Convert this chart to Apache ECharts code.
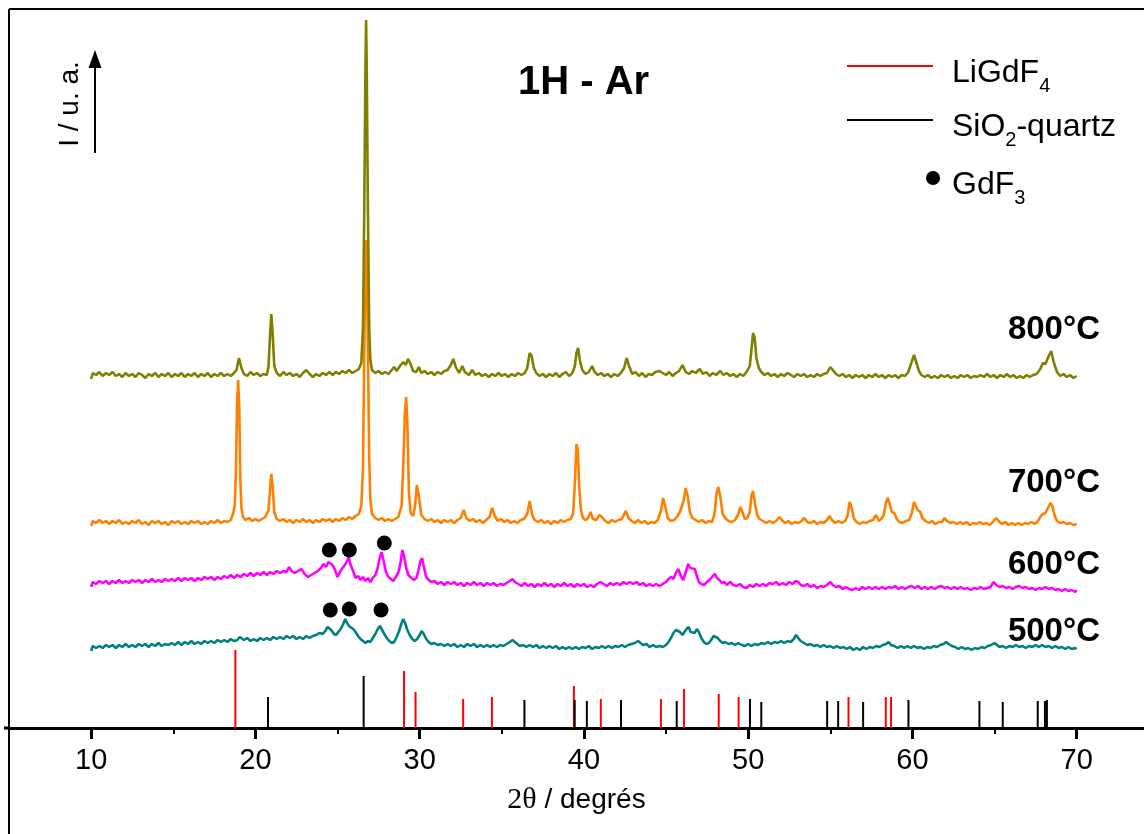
<!DOCTYPE html>
<html><head><meta charset="utf-8">
<script src="https://cdn.jsdelivr.net/npm/echarts@6/dist/echarts.min.js"></script>
<style>html,body{margin:0;padding:0;background:#fff}#c{width:1144px;height:834px}</style>
</head><body><div id="c"></div>
<script>
// ---- data ----
const tickLabels = [10, 20, 30, 40, 50, 60, 70];
const minorTicks = [15, 25, 35, 45, 55, 65];
const tempLabels = ['800°C', '700°C', '600°C', '500°C'];

// LiGdF4 reference pattern [2theta, relative intensity]
const liGdF4 = [[18.78,78],[29.05,57],[29.75,36],[32.65,29],[34.40,31],[39.39,42],[41.03,29],[44.69,29],[46.09,39],[48.21,34],[49.42,31],[56.11,31],[58.38,31],[58.70,31]];
// SiO2 quartz reference pattern
const quartz = [[20.77,31],[26.59,52],[36.38,28],[39.44,28],[40.18,27],[42.26,28],[45.65,27],[50.11,29],[50.80,26],[54.81,27],[55.48,27],[57.00,26],[59.76,28],[64.08,27],[65.50,26],[67.63,27],[68.07,27],[68.19,28]];
// GdF3 markers
const gdF3 = [[24.50,178],[25.72,178],[27.85,185],[24.56,118],[25.72,119],[27.65,118]];

const s800 = [[10.0,349],[10.1,355],[10.3,353],[10.5,356],[10.7,352],[10.9,355],[11.1,353],[11.3,356],[11.5,352],[11.7,354],[11.9,351],[12.1,355],[12.3,352],[12.5,354],[12.7,351],[12.9,355],[13.1,353],[13.3,350],[13.5,354],[13.7,352],[13.9,355],[14.1,351],[14.3,354],[14.5,352],[14.7,355],[14.9,351],[15.1,354],[15.3,352],[15.5,355],[15.7,351],[15.9,354],[16.1,352],[16.3,355],[16.5,351],[16.7,354],[16.9,352],[17.1,355],[17.3,351],[17.5,354],[17.7,352],[17.9,355],[18.1,352],[18.3,354],[18.5,352],[18.7,355],[18.85,358],[19.0,370],[19.15,360],[19.3,354],[19.5,352],[19.7,356],[19.9,353],[20.1,355],[20.3,352],[20.5,354],[20.7,353],[20.8,362],[20.9,395],[20.97,414],[21.05,395],[21.15,362],[21.3,355],[21.5,352],[21.7,356],[21.9,353],[22.1,355],[22.3,352],[22.5,354],[22.7,351],[22.9,355],[23.1,358],[23.3,354],[23.5,351],[23.7,354],[23.9,352],[24.1,355],[24.3,353],[24.5,356],[24.7,353],[24.9,356],[25.1,354],[25.3,357],[25.5,355],[25.7,358],[25.9,355],[26.1,357],[26.3,359],[26.45,365],[26.55,400],[26.63,520],[26.7,660],[26.74,708],[26.78,660],[26.85,520],[26.93,400],[27.0,368],[27.1,358],[27.3,355],[27.5,357],[27.7,354],[27.9,356],[28.1,354],[28.3,358],[28.45,361],[28.6,357],[28.8,362],[29.0,366],[29.15,363],[29.3,369],[29.45,364],[29.6,357],[29.8,356],[29.95,361],[30.1,355],[30.3,357],[30.5,354],[30.7,356],[30.9,353],[31.1,356],[31.3,354],[31.5,357],[31.7,358],[31.9,363],[32.05,369],[32.2,361],[32.4,355],[32.6,362],[32.75,356],[33.0,353],[33.2,358],[33.4,353],[33.6,355],[33.8,352],[34.0,354],[34.2,351],[34.4,354],[34.6,352],[34.8,355],[35.0,352],[35.2,354],[35.4,351],[35.6,354],[35.8,352],[36.0,355],[36.2,353],[36.4,355],[36.55,360],[36.7,375],[36.82,372],[36.95,360],[37.1,355],[37.3,352],[37.5,354],[37.7,351],[37.9,354],[38.1,352],[38.3,355],[38.5,351],[38.7,354],[38.9,356],[39.1,352],[39.3,355],[39.45,362],[39.55,375],[39.65,380],[39.75,368],[39.9,358],[40.1,354],[40.3,356],[40.5,362],[40.65,356],[40.85,353],[41.05,355],[41.25,352],[41.45,354],[41.65,351],[41.85,354],[42.05,352],[42.25,355],[42.45,360],[42.6,370],[42.75,362],[42.95,354],[43.15,356],[43.35,352],[43.55,355],[43.75,351],[43.95,354],[44.15,353],[44.35,356],[44.6,357],[44.8,355],[45.0,353],[45.2,356],[45.4,352],[45.6,355],[45.8,357],[46.0,363],[46.2,356],[46.4,354],[46.6,357],[46.8,355],[47.05,359],[47.25,354],[47.45,356],[47.65,352],[47.85,355],[48.05,353],[48.3,357],[48.5,353],[48.7,355],[48.9,352],[49.1,354],[49.3,351],[49.5,354],[49.7,352],[49.9,356],[50.1,362],[50.2,378],[50.3,395],[50.4,390],[50.5,370],[50.65,360],[50.8,356],[51.0,353],[51.2,355],[51.4,352],[51.6,354],[51.8,351],[52.0,354],[52.2,352],[52.4,355],[52.6,353],[52.8,351],[53.0,354],[53.2,352],[53.4,354],[53.6,351],[53.8,353],[54.0,351],[54.2,354],[54.4,352],[54.6,354],[54.8,355],[55.0,361],[55.15,358],[55.35,354],[55.55,352],[55.75,354],[55.95,351],[56.15,353],[56.35,350],[56.55,353],[56.75,351],[56.95,353],[57.15,350],[57.35,353],[57.55,351],[57.75,354],[57.95,351],[58.15,353],[58.35,350],[58.55,353],[58.75,351],[58.95,353],[59.15,350],[59.35,353],[59.55,352],[59.75,356],[59.95,366],[60.1,373],[60.25,365],[60.4,357],[60.55,353],[60.75,351],[60.95,353],[61.15,350],[61.35,352],[61.55,350],[61.75,353],[61.95,351],[62.15,353],[62.35,350],[62.55,352],[62.75,350],[62.95,353],[63.15,351],[63.35,353],[63.55,350],[63.75,352],[63.95,351],[64.15,353],[64.35,351],[64.55,354],[64.75,351],[64.95,353],[65.15,350],[65.35,353],[65.55,351],[65.75,354],[65.95,351],[66.15,353],[66.35,350],[66.55,352],[66.75,350],[66.95,353],[67.15,351],[67.35,353],[67.55,354],[67.75,358],[67.95,365],[68.1,364],[68.3,372],[68.45,377],[68.6,366],[68.8,356],[69.0,352],[69.2,354],[69.4,351],[69.6,353],[69.8,350],[70.0,352]];

const s700 = [[10.0,202],[10.1,207],[10.3,205],[10.5,208],[10.7,205],[10.9,207],[11.1,204],[11.3,207],[11.5,205],[11.7,208],[11.9,204],[12.1,206],[12.3,204],[12.5,207],[12.7,205],[12.9,208],[13.1,204],[13.3,206],[13.5,203],[13.7,207],[13.9,205],[14.1,207],[14.3,204],[14.5,206],[14.7,203],[14.9,207],[15.1,205],[15.3,207],[15.5,204],[15.7,206],[15.9,204],[16.1,207],[16.3,205],[16.5,207],[16.7,204],[16.9,206],[17.1,204],[17.3,207],[17.5,205],[17.7,208],[17.9,205],[18.1,207],[18.3,206],[18.5,208],[18.65,215],[18.75,224],[18.82,260],[18.88,320],[18.95,348],[19.02,320],[19.08,250],[19.15,220],[19.25,211],[19.4,208],[19.6,210],[19.8,207],[20.0,209],[20.2,207],[20.4,209],[20.6,211],[20.8,218],[20.9,240],[20.97,254],[21.05,242],[21.15,216],[21.3,209],[21.5,207],[21.7,209],[21.9,206],[22.1,208],[22.3,205],[22.5,208],[22.7,206],[22.9,209],[23.1,206],[23.3,208],[23.5,205],[23.7,208],[23.9,206],[24.1,209],[24.3,207],[24.5,209],[24.7,206],[24.9,209],[25.1,207],[25.3,210],[25.5,208],[25.7,211],[25.9,209],[26.1,212],[26.3,214],[26.45,222],[26.55,260],[26.63,380],[26.7,470],[26.74,488],[26.78,470],[26.85,380],[26.93,270],[27.0,228],[27.1,214],[27.3,210],[27.5,208],[27.7,210],[27.9,207],[28.1,209],[28.3,207],[28.5,209],[28.7,211],[28.9,222],[29.0,260],[29.1,315],[29.18,331],[29.26,300],[29.35,235],[29.45,215],[29.6,212],[29.72,222],[29.83,243],[29.95,232],[30.1,213],[30.3,209],[30.5,207],[30.7,209],[30.9,206],[31.1,208],[31.3,205],[31.5,208],[31.7,206],[31.9,208],[32.1,205],[32.3,208],[32.5,210],[32.68,218],[32.85,210],[33.05,207],[33.25,209],[33.45,206],[33.65,208],[33.85,205],[34.05,208],[34.25,211],[34.42,220],[34.58,212],[34.75,207],[34.95,209],[35.15,206],[35.35,208],[35.55,205],[35.75,207],[35.95,205],[36.15,208],[36.35,209],[36.55,214],[36.7,227],[36.85,213],[37.0,208],[37.2,206],[37.4,208],[37.6,205],[37.8,207],[38.0,204],[38.2,207],[38.4,205],[38.6,208],[38.8,206],[39.0,208],[39.2,209],[39.35,215],[39.45,245],[39.55,284],[39.63,278],[39.72,240],[39.82,218],[39.95,210],[40.1,208],[40.25,210],[40.4,216],[40.55,209],[40.75,208],[40.95,213],[41.1,211],[41.3,207],[41.5,205],[41.7,208],[41.9,206],[42.1,208],[42.3,209],[42.55,217],[42.72,210],[42.9,207],[43.1,205],[43.3,208],[43.5,205],[43.7,207],[43.9,204],[44.1,206],[44.3,205],[44.5,208],[44.7,218],[44.82,230],[44.95,222],[45.1,210],[45.3,207],[45.5,208],[45.7,212],[45.85,216],[45.95,214],[46.08,228],[46.2,240],[46.32,232],[46.45,216],[46.6,210],[46.8,208],[47.0,206],[47.2,208],[47.4,205],[47.6,207],[47.8,206],[47.95,214],[48.08,235],[48.18,241],[48.3,232],[48.45,214],[48.6,210],[48.8,207],[49.0,206],[49.2,208],[49.38,213],[49.52,221],[49.65,216],[49.8,209],[49.95,210],[50.1,216],[50.2,232],[50.3,237],[50.42,224],[50.55,213],[50.7,209],[50.9,207],[51.1,205],[51.3,207],[51.5,205],[51.7,207],[51.9,211],[52.05,208],[52.25,205],[52.45,207],[52.65,204],[52.85,206],[53.05,205],[53.25,207],[53.42,210],[53.6,206],[53.8,205],[54.0,207],[54.2,204],[54.4,206],[54.6,205],[54.8,208],[54.95,212],[55.1,208],[55.3,205],[55.5,207],[55.7,205],[55.9,207],[56.05,212],[56.18,226],[56.32,219],[56.45,209],[56.6,206],[56.8,204],[57.0,206],[57.2,205],[57.4,207],[57.6,208],[57.78,213],[57.95,207],[58.1,209],[58.25,213],[58.4,226],[58.5,230],[58.62,224],[58.75,216],[58.9,215],[59.05,209],[59.2,206],[59.4,205],[59.6,207],[59.8,208],[59.95,214],[60.1,226],[60.2,227],[60.32,218],[60.48,216],[60.6,210],[60.8,207],[61.0,205],[61.2,207],[61.4,204],[61.6,206],[61.8,206],[61.95,210],[62.1,207],[62.3,205],[62.5,206],[62.7,204],[62.9,206],[63.1,204],[63.3,206],[63.5,203],[63.7,205],[63.9,204],[64.1,206],[64.3,204],[64.5,205],[64.7,203],[64.9,206],[65.1,210],[65.25,207],[65.45,204],[65.65,206],[65.85,203],[66.05,205],[66.25,203],[66.45,205],[66.65,203],[66.85,205],[67.05,204],[67.25,206],[67.45,204],[67.65,207],[67.82,212],[67.95,214],[68.1,215],[68.25,220],[68.4,225],[68.52,222],[68.65,213],[68.8,207],[69.0,205],[69.2,206],[69.4,204],[69.6,205],[69.8,203],[70.0,204]];

const s600 = [[10.0,141],[10.1,146],[10.3,144],[10.5,147],[10.7,145],[10.9,147],[11.1,144],[11.3,147],[11.5,145],[11.7,148],[11.9,145],[12.1,147],[12.3,145],[12.5,148],[12.7,146],[12.9,148],[13.1,145],[13.3,148],[13.5,146],[13.7,149],[13.9,146],[14.1,148],[14.3,146],[14.5,149],[14.7,147],[14.9,149],[15.1,147],[15.3,150],[15.5,147],[15.7,150],[15.9,148],[16.1,150],[16.3,147],[16.5,150],[16.7,148],[16.9,151],[17.1,149],[17.3,151],[17.5,148],[17.7,151],[17.9,149],[18.1,152],[18.3,150],[18.5,153],[18.7,150],[18.9,153],[19.1,151],[19.3,154],[19.5,152],[19.7,155],[19.9,152],[20.1,155],[20.3,153],[20.5,156],[20.7,153],[20.9,156],[21.1,154],[21.3,157],[21.5,155],[21.7,157],[21.9,156],[22.05,161],[22.2,157],[22.4,155],[22.6,157],[22.8,159],[23.0,154],[23.2,151],[23.4,153],[23.6,155],[23.8,157],[24.0,160],[24.15,164],[24.3,161],[24.45,166],[24.55,168],[24.7,163],[24.85,158],[25.0,151],[25.15,156],[25.3,160],[25.45,163],[25.58,167],[25.68,171],[25.8,163],[25.95,157],[26.1,150],[26.25,152],[26.4,148],[26.55,151],[26.7,147],[26.85,150],[27.0,146],[27.15,150],[27.3,153],[27.45,160],[27.57,170],[27.68,176],[27.8,168],[27.95,156],[28.1,151],[28.25,149],[28.4,147],[28.55,151],[28.7,155],[28.83,165],[28.95,178],[29.05,172],[29.18,160],[29.32,153],[29.5,150],[29.65,148],[29.8,150],[29.92,157],[30.05,167],[30.15,170],[30.27,160],[30.4,151],[30.55,148],[30.7,146],[30.9,147],[31.1,144],[31.3,146],[31.5,143],[31.7,146],[31.9,144],[32.1,146],[32.3,143],[32.5,145],[32.7,142],[32.9,145],[33.1,143],[33.3,146],[33.5,143],[33.7,145],[33.9,142],[34.1,145],[34.3,143],[34.5,145],[34.7,142],[34.9,144],[35.1,143],[35.3,145],[35.5,147],[35.65,149],[35.8,146],[36.0,144],[36.2,142],[36.4,145],[36.6,142],[36.8,144],[37.0,141],[37.2,144],[37.4,142],[37.6,145],[37.8,142],[38.0,144],[38.2,141],[38.4,144],[38.6,142],[38.8,145],[39.0,142],[39.2,144],[39.4,141],[39.6,144],[39.8,142],[40.0,144],[40.2,141],[40.4,143],[40.6,141],[40.8,144],[41.0,146],[41.2,144],[41.4,142],[41.6,145],[41.8,143],[42.0,145],[42.2,143],[42.4,146],[42.6,144],[42.8,146],[43.0,144],[43.2,146],[43.4,143],[43.6,145],[43.8,142],[44.0,144],[44.2,142],[44.4,144],[44.6,142],[44.8,144],[45.0,146],[45.15,149],[45.3,151],[45.45,149],[45.6,155],[45.75,159],[45.9,152],[46.05,148],[46.2,156],[46.35,164],[46.48,160],[46.6,162],[46.75,159],[46.88,152],[47.0,146],[47.15,144],[47.3,143],[47.5,146],[47.7,149],[47.85,152],[47.98,154],[48.1,150],[48.25,148],[48.4,145],[48.55,146],[48.7,143],[48.9,146],[49.1,143],[49.3,142],[49.5,144],[49.7,141],[49.9,140],[50.1,143],[50.3,141],[50.5,144],[50.7,142],[50.9,144],[51.1,142],[51.3,145],[51.5,144],[51.7,146],[51.9,143],[52.1,145],[52.3,143],[52.5,146],[52.7,144],[52.9,147],[53.05,146],[53.2,143],[53.4,142],[53.6,144],[53.8,141],[54.0,143],[54.2,140],[54.4,142],[54.6,141],[54.8,143],[55.0,146],[55.15,143],[55.35,141],[55.55,142],[55.75,139],[55.95,141],[56.15,139],[56.35,138],[56.55,140],[56.75,138],[56.95,141],[57.15,139],[57.35,141],[57.55,139],[57.75,141],[57.95,139],[58.15,141],[58.35,139],[58.55,141],[58.75,140],[58.95,142],[59.15,139],[59.35,141],[59.55,139],[59.75,141],[59.95,142],[60.15,140],[60.35,142],[60.55,139],[60.75,141],[60.95,139],[61.15,141],[61.35,139],[61.55,141],[61.75,142],[61.95,140],[62.15,141],[62.35,139],[62.55,141],[62.75,139],[62.95,141],[63.15,139],[63.35,140],[63.55,138],[63.75,140],[63.95,139],[64.15,141],[64.35,139],[64.55,140],[64.75,141],[64.95,146],[65.1,143],[65.3,141],[65.5,142],[65.7,140],[65.9,141],[66.1,139],[66.3,141],[66.5,142],[66.7,140],[66.9,141],[67.1,139],[67.3,140],[67.5,138],[67.7,140],[67.9,139],[68.1,141],[68.3,139],[68.5,140],[68.7,138],[68.9,139],[69.1,137],[69.3,139],[69.5,137],[69.7,138],[69.9,136],[70.0,138]];

const s500 = [[10.0,77],[10.1,82],[10.3,80],[10.5,82],[10.7,80],[10.9,83],[11.1,81],[11.3,83],[11.5,80],[11.7,83],[11.9,81],[12.1,84],[12.3,81],[12.5,83],[12.7,81],[12.9,84],[13.1,82],[13.3,84],[13.5,81],[13.7,84],[13.9,82],[14.1,85],[14.3,82],[14.5,84],[14.7,83],[14.9,85],[15.1,83],[15.3,86],[15.5,83],[15.7,86],[15.9,84],[16.1,87],[16.3,84],[16.5,86],[16.7,84],[16.9,87],[17.1,85],[17.3,87],[17.5,85],[17.7,88],[17.9,86],[18.1,88],[18.3,86],[18.5,89],[18.7,87],[18.9,88],[19.05,91],[19.15,93],[19.3,88],[19.5,90],[19.7,87],[19.9,89],[20.1,87],[20.3,90],[20.5,88],[20.7,90],[20.9,88],[21.1,91],[21.3,89],[21.5,91],[21.7,89],[21.9,92],[22.1,90],[22.3,92],[22.5,89],[22.7,91],[22.9,89],[23.1,92],[23.3,90],[23.5,92],[23.7,93],[23.9,95],[24.1,94],[24.25,97],[24.4,101],[24.5,103],[24.62,98],[24.78,94],[24.92,93],[25.05,96],[25.2,99],[25.35,104],[25.47,109],[25.58,105],[25.7,102],[25.82,104],[25.95,99],[26.1,96],[26.25,92],[26.4,89],[26.55,87],[26.7,85],[26.85,87],[27.0,86],[27.15,90],[27.3,94],[27.45,99],[27.58,102],[27.7,100],[27.85,94],[28.0,90],[28.15,87],[28.3,85],[28.45,86],[28.6,91],[28.75,97],[28.88,104],[29.0,109],[29.12,105],[29.25,98],[29.4,93],[29.55,89],[29.7,87],[29.85,89],[30.0,93],[30.12,97],[30.25,94],[30.4,89],[30.55,86],[30.7,84],[30.9,85],[31.1,83],[31.3,84],[31.5,82],[31.7,84],[31.9,82],[32.1,84],[32.3,81],[32.5,83],[32.7,81],[32.9,84],[33.1,82],[33.3,84],[33.5,81],[33.7,83],[33.9,81],[34.1,83],[34.3,81],[34.5,83],[34.7,81],[34.9,83],[35.1,82],[35.3,84],[35.5,86],[35.65,88],[35.8,86],[35.95,84],[36.1,82],[36.3,83],[36.5,81],[36.7,83],[36.9,81],[37.1,83],[37.3,80],[37.5,82],[37.7,80],[37.9,82],[38.1,80],[38.3,82],[38.5,79],[38.7,81],[38.9,79],[39.1,81],[39.3,79],[39.5,81],[39.7,79],[39.9,81],[40.1,80],[40.3,82],[40.5,79],[40.7,81],[40.9,80],[41.1,82],[41.3,80],[41.5,82],[41.7,80],[41.9,82],[42.1,81],[42.3,83],[42.5,81],[42.7,83],[42.9,84],[43.1,85],[43.3,87],[43.45,85],[43.6,83],[43.8,84],[44.0,81],[44.2,83],[44.4,81],[44.6,82],[44.8,81],[45.0,83],[45.15,86],[45.3,90],[45.45,95],[45.6,98],[45.72,100],[45.85,96],[46.0,93],[46.12,96],[46.25,99],[46.38,101],[46.5,96],[46.62,97],[46.75,95],[46.88,99],[47.0,96],[47.15,90],[47.3,86],[47.45,84],[47.6,85],[47.75,88],[47.9,92],[48.02,94],[48.15,90],[48.3,87],[48.45,85],[48.6,86],[48.8,84],[49.0,85],[49.2,83],[49.4,85],[49.6,83],[49.8,82],[50.0,84],[50.2,82],[50.4,84],[50.6,83],[50.8,85],[51.0,84],[51.2,86],[51.4,84],[51.6,86],[51.8,85],[52.0,87],[52.2,85],[52.4,87],[52.6,86],[52.78,89],[52.92,93],[53.05,90],[53.2,87],[53.4,85],[53.6,83],[53.8,84],[54.0,82],[54.2,83],[54.4,81],[54.6,83],[54.8,81],[55.0,82],[55.2,80],[55.4,82],[55.6,80],[55.8,81],[56.0,79],[56.2,81],[56.4,78],[56.6,80],[56.8,78],[57.0,81],[57.2,79],[57.4,81],[57.6,80],[57.8,82],[58.0,81],[58.2,83],[58.4,84],[58.55,86],[58.7,83],[58.9,82],[59.1,80],[59.3,82],[59.5,80],[59.7,82],[59.9,80],[60.1,82],[60.3,80],[60.5,81],[60.7,79],[60.9,81],[61.1,80],[61.3,82],[61.5,81],[61.7,83],[61.9,84],[62.05,86],[62.2,84],[62.4,82],[62.6,81],[62.8,79],[63.0,81],[63.2,79],[63.4,80],[63.6,78],[63.8,80],[64.0,79],[64.2,81],[64.4,80],[64.6,82],[64.8,83],[65.0,85],[65.15,83],[65.3,81],[65.5,82],[65.7,80],[65.9,82],[66.1,81],[66.3,83],[66.5,81],[66.7,82],[66.9,80],[67.1,82],[67.3,81],[67.5,83],[67.7,81],[67.9,83],[68.1,81],[68.3,82],[68.5,80],[68.7,82],[68.9,80],[69.1,81],[69.3,79],[69.5,81],[69.7,79],[69.9,80],[70.0,79]];

// ---- chart ----
const chart = echarts.init(document.getElementById('c'), null, {renderer: 'canvas'});
const SANS = '"Liberation Sans", Arial, sans-serif';
const SERIF = '"Liberation Serif", "Times New Roman", serif';

function lineSeries(name, data, color) {
  return {type: 'line', name, data, showSymbol: false, symbol: 'none',
    lineStyle: {color, width: 2.6}, itemStyle: {color}, silent: true};
}

const legendRich = {
  g: {width: 14, lineHeight: 60},
  g2: {width: 7, lineHeight: 60},
  n: {fontSize: 32, fontFamily: SANS, color: '#000', verticalAlign: 'bottom', padding: [0, 0, 7, 0]},
  s: {fontSize: 20, fontFamily: SANS, color: '#000', verticalAlign: 'bottom'}
};

const option = {
  animation: false,
  backgroundColor: '#fff',
  title: {text: '1H - Ar', left: 513, top: 58,
    textStyle: {fontSize: 40, fontWeight: 'bold', fontFamily: SANS, color: '#000'}},
  grid: {left: 9, right: 0, top: 9, bottom: 106, containLabel: false, outerBoundsMode: 'none'},
  xAxis: [
    {type: 'value', min: 5, max: 74.1, position: 'bottom',
      axisLine: {show: true, lineStyle: {color: '#000', width: 3}},
      axisTick: {show: true, customValues: tickLabels, length: 11, lineStyle: {color: '#000', width: 3}},
      axisLabel: {show: true, customValues: tickLabels, margin: 18, fontSize: 29, fontFamily: SANS, color: '#000'},
      splitLine: {show: false},
      name: '{a|2θ}{b| / degrés}', nameLocation: 'middle', nameGap: 57,
      nameTextStyle: {rich: {
        a: {fontFamily: SERIF, fontSize: 30, color: '#000'},
        b: {fontFamily: SANS, fontSize: 28, color: '#000'}}}
    },
    {type: 'value', min: 5, max: 74.1, position: 'bottom',
      axisLine: {show: false},
      axisTick: {show: true, customValues: minorTicks, length: 6, lineStyle: {color: '#000', width: 2}},
      axisLabel: {show: false}, splitLine: {show: false}}
  ],
  yAxis: {type: 'value', min: 0, max: 719, show: false},
  legend: [
    {data: ['LiGdF4', 'SiO2-quartz'], orient: 'vertical', left: 842, top: 52,
      itemWidth: 86, itemHeight: 2, icon: 'rect', itemGap: 15, selectedMode: false,
      formatter: n => n === 'LiGdF4' ? '{g|}{n|LiGdF}{s|4}' : '{g|}{n|SiO}{s|2}{n|-quartz}',
      textStyle: {rich: legendRich}},
    {data: ['GdF3'], orient: 'vertical', left: 921, top: 164,
      itemWidth: 14, itemHeight: 14, icon: 'circle', selectedMode: false,
      itemStyle: {color: '#000', opacity: 1},
      formatter: () => '{g2|}{n|GdF}{s|3}',
      textStyle: {rich: legendRich}}
  ],
  series: [
    lineSeries('500°C', s500, '#008080'),
    lineSeries('600°C', s600, '#FF00FF'),
    lineSeries('700°C', s700, '#FF8000'),
    lineSeries('800°C', s800, '#808000'),
    {type: 'bar', name: 'LiGdF4', data: liGdF4, barWidth: 2, barGap: '-100%', itemStyle: {color: '#FF0000'}, silent: true},
    {type: 'bar', name: 'SiO2-quartz', data: quartz, barWidth: 2, barGap: '-100%', itemStyle: {color: '#000'}, silent: true},
    {type: 'scatter', name: 'GdF3', data: gdF3, symbol: 'circle', symbolSize: 15, itemStyle: {color: '#000', opacity: 1}, silent: true, z: 5}
  ],
  graphic: [
    {type: 'line', shape: {x1: 9, y1: 9, x2: 1144, y2: 9}, style: {stroke: '#000', lineWidth: 2}},
    {type: 'line', shape: {x1: 9, y1: 9, x2: 9, y2: 834}, style: {stroke: '#000', lineWidth: 2}},
    {type: 'line', shape: {x1: 4, y1: 728, x2: 10, y2: 728}, style: {stroke: '#000', lineWidth: 3}},
    {type: 'line', shape: {x1: 95, y1: 153, x2: 95, y2: 62}, style: {stroke: '#000', lineWidth: 2}},
    {type: 'polygon', shape: {points: [[95, 50], [88.5, 68], [101.5, 68]]}, style: {fill: '#000'}},
    {type: 'text', x: 70, y: 104, rotation: Math.PI / 2,
      style: {text: 'I / u. a.', font: '28px ' + SANS, fill: '#000', align: 'center', verticalAlign: 'middle'}},
    {type: 'text', x: 1100, y: 330, style: {text: tempLabels[0], font: 'bold 33px ' + SANS, fill: '#000', align: 'right', verticalAlign: 'middle'}},
    {type: 'text', x: 1100, y: 483, style: {text: tempLabels[1], font: 'bold 33px ' + SANS, fill: '#000', align: 'right', verticalAlign: 'middle'}},
    {type: 'text', x: 1100, y: 565, style: {text: tempLabels[2], font: 'bold 33px ' + SANS, fill: '#000', align: 'right', verticalAlign: 'middle'}},
    {type: 'text', x: 1100, y: 632, style: {text: tempLabels[3], font: 'bold 33px ' + SANS, fill: '#000', align: 'right', verticalAlign: 'middle'}}
  ]
};
chart.setOption(option);
</script>
</body></html>
